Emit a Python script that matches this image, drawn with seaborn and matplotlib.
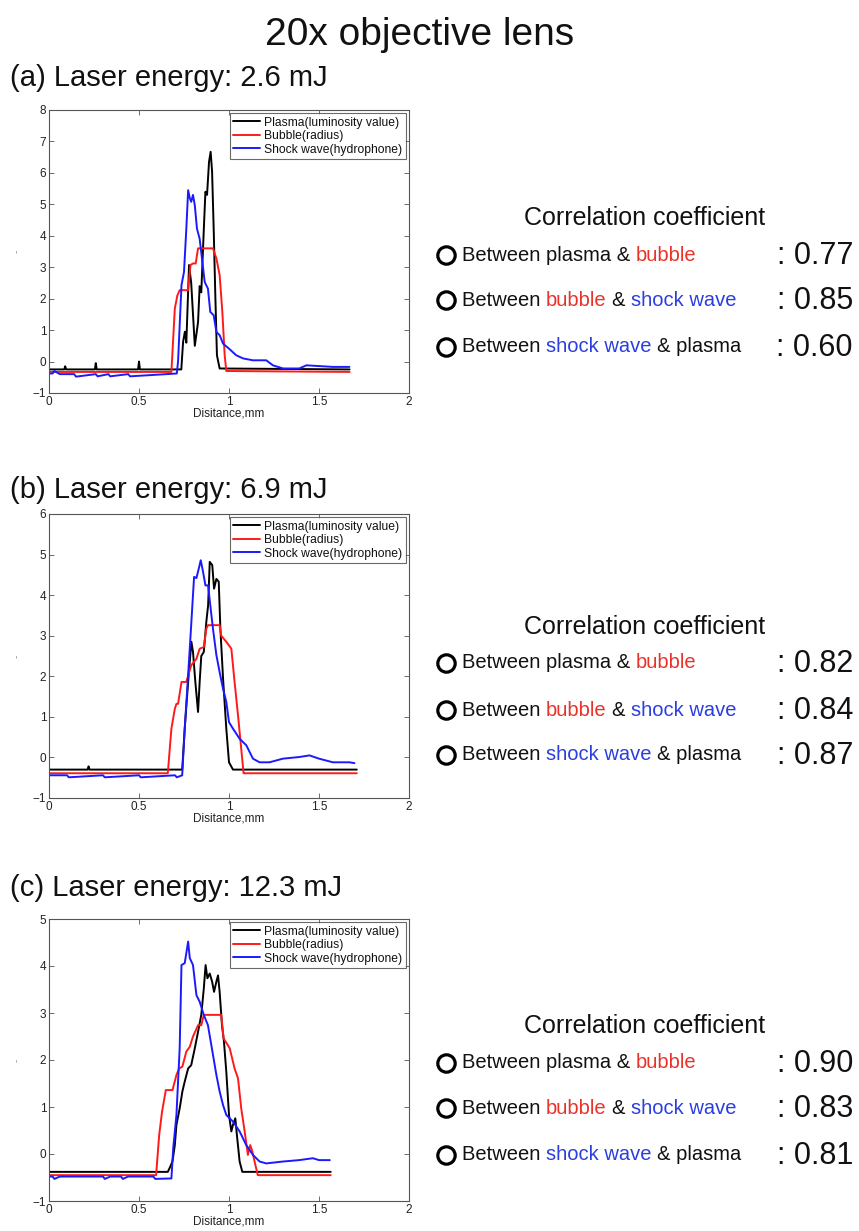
import matplotlib
matplotlib.use("Agg")
import matplotlib.pyplot as plt
import seaborn as sns
import pandas as pd
from matplotlib.lines import Line2D

# ---------------- data ----------------
series_names = ["Plasma(luminosity value)", "Bubble(radius)", "Shock wave(hydrophone)"]
series_colors = ["#000000", "#ff1a1a", "#1a1aff"]

a_plasma_x = [0, 0.085, 0.09, 0.095, 0.255, 0.26, 0.265, 0.495, 0.5, 0.505, 0.735, 0.745, 0.755, 0.763, 0.778, 0.79, 0.81, 0.828, 0.837, 0.846, 0.86, 0.869, 0.878, 0.889, 0.898, 0.906, 0.915, 0.924, 0.933, 0.948, 1.67]
a_plasma_y = [-0.25, -0.25, -0.15, -0.25, -0.25, -0.05, -0.25, -0.25, 0.0, -0.25, -0.25, 0.63, 0.95, 0.6, 3.07, 2.5, 0.5, 1.25, 2.4, 2.2, 4.2, 5.4, 5.3, 6.35, 6.67, 6.05, 4.2, 2.1, 0.2, -0.22, -0.25]
a_bubble_x = [0, 0.68, 0.699, 0.713, 0.726, 0.773, 0.786, 0.80, 0.815, 0.828, 0.911, 0.93, 0.948, 0.963, 0.976, 0.985, 1.67]
a_bubble_y = [-0.33, -0.33, 1.69, 2.1, 2.27, 2.27, 3.07, 3.12, 3.12, 3.6, 3.6, 3.28, 2.75, 1.58, 0.2, -0.3, -0.33]
a_shock_x = [0, 0.02, 0.03, 0.06, 0.14, 0.15, 0.26, 0.27, 0.33, 0.34, 0.44, 0.45, 0.71, 0.717, 0.736, 0.75, 0.763, 0.773, 0.782, 0.79, 0.80, 0.81, 0.822, 0.837, 0.852, 0.865, 0.883, 0.896, 0.915, 0.93, 0.948, 0.967, 1.0, 1.04, 1.078, 1.133, 1.207, 1.244, 1.3, 1.39, 1.43, 1.577, 1.669]
a_shock_y = [-0.38, -0.38, -0.3, -0.4, -0.4, -0.48, -0.4, -0.47, -0.4, -0.47, -0.4, -0.47, -0.38, 0.0, 2.43, 2.85, 4.23, 5.45, 5.2, 5.08, 5.3, 4.97, 4.23, 3.9, 3.17, 2.53, 2.32, 1.58, 1.47, 0.94, 0.84, 0.57, 0.41, 0.2, 0.1, 0.04, 0.04, -0.12, -0.22, -0.22, -0.12, -0.17, -0.17]

b_plasma_x = [0, 0.215, 0.22, 0.225, 0.74, 0.754, 0.773, 0.791, 0.80, 0.813, 0.828, 0.837, 0.846, 0.86, 0.874, 0.884, 0.893, 0.907, 0.917, 0.93, 0.943, 0.952, 0.967, 0.985, 1.0, 1.022, 1.71]
b_plasma_y = [-0.3, -0.3, -0.22, -0.3, -0.3, 0.71, 1.86, 2.85, 2.6, 1.86, 1.12, 1.86, 2.5, 2.6, 3.34, 3.75, 4.82, 4.74, 4.16, 4.4, 4.33, 3.18, 1.94, 0.71, -0.12, -0.3, -0.3]
b_bubble_x = [0, 0.66, 0.68, 0.699, 0.708, 0.717, 0.736, 0.763, 0.79, 0.819, 0.837, 0.86, 0.874, 0.883, 0.948, 0.957, 0.985, 1.013, 1.031, 1.05, 1.068, 1.081, 1.71]
b_bubble_y = [-0.39, -0.39, 0.71, 1.2, 1.32, 1.32, 1.86, 1.86, 2.27, 2.43, 2.68, 2.72, 3.17, 3.26, 3.26, 3.0, 2.85, 2.68, 1.86, 1.04, 0.21, -0.39, -0.39]
b_shock_x = [0, 0.1, 0.11, 0.3, 0.31, 0.5, 0.51, 0.7, 0.71, 0.74, 0.754, 0.782, 0.806, 0.819, 0.834, 0.843, 0.856, 0.869, 0.884, 0.896, 0.911, 0.93, 0.948, 0.967, 0.985, 1.0, 1.022, 1.059, 1.096, 1.133, 1.17, 1.225, 1.3, 1.39, 1.447, 1.5, 1.577, 1.669, 1.697]
b_shock_y = [-0.44, -0.44, -0.49, -0.44, -0.49, -0.44, -0.49, -0.44, -0.49, -0.44, 0.71, 2.68, 4.45, 4.42, 4.69, 4.86, 4.57, 4.24, 4.24, 3.75, 3.17, 2.52, 2.1, 1.69, 1.37, 0.87, 0.71, 0.46, 0.30, -0.03, -0.12, -0.12, -0.03, 0.01, 0.05, -0.03, -0.12, -0.12, -0.14]

c_plasma_x = [0, 0.66, 0.67, 0.686, 0.699, 0.708, 0.726, 0.741, 0.754, 0.773, 0.79, 0.81, 0.828, 0.846, 0.86, 0.87, 0.88, 0.893, 0.906, 0.917, 0.93, 0.939, 0.948, 0.961, 0.972, 0.985, 1.0, 1.013, 1.022, 1.035, 1.044, 1.059, 1.074, 1.565]
c_plasma_y = [-0.38, -0.38, -0.3, -0.16, 0.19, 0.62, 0.97, 1.33, 1.54, 1.82, 1.89, 2.25, 2.6, 2.96, 3.52, 4.02, 3.74, 3.84, 3.67, 3.45, 3.67, 3.8, 3.45, 2.74, 2.39, 1.75, 0.83, 0.48, 0.62, 0.76, 0.4, -0.16, -0.38, -0.38]
c_bubble_x = [0, 0.595, 0.612, 0.628, 0.649, 0.686, 0.708, 0.723, 0.741, 0.763, 0.782, 0.80, 0.828, 0.846, 0.86, 0.957, 0.97, 1.004, 1.031, 1.05, 1.068, 1.087, 1.105, 1.118, 1.13, 1.142, 1.16, 1.565]
c_bubble_y = [-0.45, -0.45, 0.4, 0.9, 1.36, 1.36, 1.68, 1.82, 1.86, 2.18, 2.28, 2.5, 2.74, 2.74, 2.96, 2.96, 2.46, 2.25, 1.82, 1.61, 0.97, 0.48, -0.02, 0.19, 0.05, -0.16, -0.45, -0.45]
c_shock_x = [0, 0.02, 0.03, 0.06, 0.3, 0.31, 0.34, 0.4, 0.41, 0.44, 0.58, 0.59, 0.68, 0.69, 0.708, 0.726, 0.736, 0.754, 0.773, 0.782, 0.80, 0.819, 0.837, 0.86, 0.883, 0.911, 0.93, 0.948, 0.967, 0.985, 1.022, 1.059, 1.096, 1.133, 1.17, 1.207, 1.3, 1.39, 1.466, 1.5, 1.56]
c_shock_y = [-0.48, -0.48, -0.53, -0.48, -0.48, -0.53, -0.48, -0.48, -0.53, -0.48, -0.48, -0.53, -0.52, 0.12, 0.83, 2.25, 4.02, 4.06, 4.52, 4.17, 4.02, 3.38, 3.24, 2.96, 2.74, 2.11, 1.68, 1.33, 1.04, 0.83, 0.69, 0.48, 0.19, -0.02, -0.16, -0.2, -0.16, -0.13, -0.09, -0.13, -0.13]

panel_labels = ["(a) Laser energy: 2.6 mJ", "(b) Laser energy: 6.9 mJ", "(c) Laser energy: 12.3 mJ"]
panel_ymax = [8, 6, 5]
correlations = [["0.77", "0.85", "0.60"], ["0.82", "0.84", "0.87"], ["0.90", "0.83", "0.81"]]
x_ticks = [0, 0.5, 1, 1.5, 2]
x_tick_labels = ["0", "0.5", "1", "1.5", "2"]

panels = [
    [(a_plasma_x, a_plasma_y), (a_bubble_x, a_bubble_y), (a_shock_x, a_shock_y)],
    [(b_plasma_x, b_plasma_y), (b_bubble_x, b_bubble_y), (b_shock_x, b_shock_y)],
    [(c_plasma_x, c_plasma_y), (c_bubble_x, c_bubble_y), (c_shock_x, c_shock_y)],
]

# ---------------- style ----------------
sns.set_style("ticks")
plt.rcParams["font.family"] = ["Liberation Sans", "DejaVu Sans"]
plt.rcParams["text.color"] = "#111111"
plt.rcParams["axes.labelcolor"] = "#222222"
plt.rcParams["xtick.color"] = "#555555"
plt.rcParams["ytick.color"] = "#555555"
plt.rcParams["xtick.labelcolor"] = "#222222"
plt.rcParams["ytick.labelcolor"] = "#222222"

W, H = 859, 1231
fig = plt.figure(figsize=(W / 100, H / 100), dpi=100)

def fx(px):
    return px / W

def fy(py):
    return 1 - py / H

# axes pixel boxes: (left, top, right, bottom)
axes_boxes = [(49, 110, 409, 393), (49, 514, 409, 798), (49, 919, 409, 1201)]
label_y = [78, 490, 888]
header_y = [218, 627, 1026]
row_ys = [[255, 300, 347], [663, 710, 755], [1063, 1108, 1155]]

for i, (box, data) in enumerate(zip(axes_boxes, panels)):
    l, t, r, b = box
    ax = fig.add_axes([fx(l), fy(b), fx(r - l), (b - t) / H])
    for (xs, ys), name, col in zip(data, series_names, series_colors):
        df = pd.DataFrame({"x": xs, "y": ys})
        sns.lineplot(data=df, x="x", y="y", ax=ax, color=col, label=name,
                     sort=False, estimator=None, linewidth=1.4)
    ax.set_xlim(0, 2)
    ax.set_ylim(-1, panel_ymax[i])
    ax.set_xticks(x_ticks)
    ax.set_xticklabels(x_tick_labels)
    ax.set_yticks(list(range(-1, panel_ymax[i] + 1)))
    ax.set_yticklabels(["\u22121"] + [str(v) for v in range(0, panel_ymax[i] + 1)])
    ax.tick_params(direction="in", top=True, right=True, labelsize=8.5,
                   length=3.5, width=0.6, pad=2)
    for sp in ax.spines.values():
        sp.set_color("#555555")
        sp.set_linewidth(0.8)
    ax.set_xlabel("Disitance,mm", fontsize=8.5, labelpad=0)
    ax.set_ylabel("-", fontsize=7, labelpad=8, color="#888888")
    leg = ax.legend(loc="upper right", fontsize=8.7, frameon=True, fancybox=False,
                    borderaxespad=0.25, handlelength=2.2, labelspacing=0.12,
                    borderpad=0.3, handletextpad=0.35)
    leg.get_frame().set_edgecolor("#444444")
    leg.get_frame().set_linewidth(0.8)

    fig.text(fx(10), fy(label_y[i]), panel_labels[i], fontsize=21,
             ha="left", va="center")

fig.text(fx(420), fy(35), "20x objective lens", fontsize=28, ha="center", va="center")

# ---------------- correlation text blocks ----------------
RED = "#e8332a"
BLUE = "#2b3ee0"
rows = [
    [("Between plasma & ", "#111111"), ("bubble", RED)],
    [("Between ", "#111111"), ("bubble", RED), (" & ", "#111111"), ("shock wave", BLUE)],
    [("Between ", "#111111"), ("shock wave", BLUE), (" & plasma", "#111111")],
]

fig.canvas.draw()
renderer = fig.canvas.get_renderer()

def text_width(s, size):
    # advance width of a string (trailing spaces included) via a guard glyph
    t1 = fig.text(0, 0, "|" + s + "|", fontsize=size)
    t2 = fig.text(0, 0, "||", fontsize=size)
    w = t1.get_window_extent(renderer=renderer).width - t2.get_window_extent(renderer=renderer).width
    t1.remove()
    t2.remove()
    return w

def colored_line(x_px, y_px, segments, size):
    prefix = ""
    for txt, col in segments:
        body = txt.lstrip(" ")
        prefix += txt[: len(txt) - len(body)]
        x = x_px + (text_width(prefix, size) if prefix else 0)
        fig.text(fx(x), fy(y_px), body, color=col, fontsize=size, ha="left", va="center")
        prefix += body

for i in range(3):
    fig.text(fx(645), fy(header_y[i]), "Correlation coefficient", fontsize=18,
             ha="center", va="center", color="#111111")
    for j in range(3):
        y = row_ys[i][j]
        fig.add_artist(Line2D([fx(446)], [fy(y)], marker="o", markersize=12.5,
                              markerfacecolor="none", markeredgecolor="black",
                              markeredgewidth=2.3, transform=fig.transFigure))
        colored_line(462, y, rows[j], 14.5)
        fig.text(fx(853), fy(y + 1), ": " + correlations[i][j], fontsize=22,
                 ha="right", va="center", color="#111111")

fig.savefig("out.png", dpi=100)
